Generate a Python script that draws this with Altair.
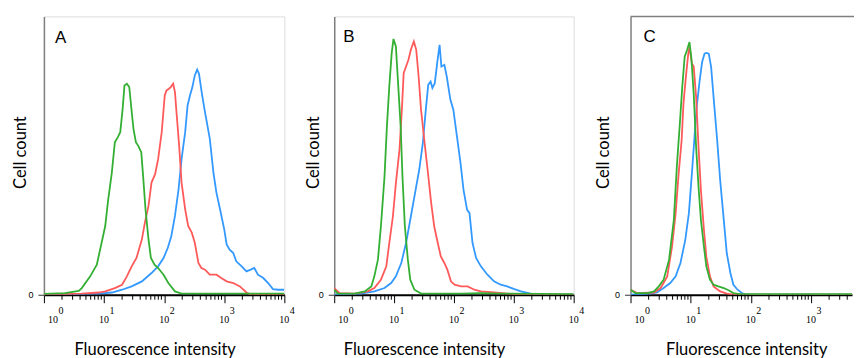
import altair as alt
import pandas as pd

# ---------------- data (x in decades of fluorescence intensity, y = relative cell count) -------------
SERIES = ["blue", "red", "green"]
COLORS = ["#3399ff", "#ff5a5a", "#33b033"]

A_green_x = [0.0, 0.35, 0.58, 0.63, 0.77, 0.88, 0.96, 1.02, 1.07, 1.13, 1.18, 1.23, 1.27, 1.31, 1.34, 1.38, 1.42,
             1.45, 1.49, 1.53, 1.57, 1.62, 1.65, 1.69, 1.74, 1.78, 1.84, 1.90, 1.99, 2.07, 2.18, 2.29, 4.0]
A_green_y = [0.3, 0.6, 1.4, 2.4, 6.6, 10.8, 18.7, 24.7, 34.3, 43.9, 54.8, 56.6, 58.4, 66.8, 75.2, 75.8, 74.6,
             68.0, 59.6, 54.8, 53.5, 51.1, 42.7, 30.7, 19.9, 13.2, 10.8, 9.6, 7.2, 4.2, 1.2, 0.4, 0.4]
A_red_x = [0.0, 0.63, 0.91, 1.02, 1.18, 1.30, 1.38, 1.46, 1.54, 1.63, 1.68, 1.74, 1.79, 1.85, 1.90, 1.96, 2.01,
           2.04, 2.08, 2.11, 2.15, 2.18, 2.21, 2.25, 2.29, 2.35, 2.40, 2.46, 2.51, 2.57, 2.62, 2.68, 2.76, 2.87,
           2.95, 3.04, 3.15, 3.26, 3.37, 3.45, 4.0]
A_red_y = [0.0, 0.4, 0.8, 1.2, 2.4, 3.6, 6.6, 10.2, 13.2, 19.9, 25.9, 31.9, 40.3, 43.3, 48.7, 58.4, 71.6,
           73.4, 74.0, 74.6, 75.8, 72.8, 64.4, 53.5, 40.3, 30.7, 24.7, 22.3, 18.7, 11.4, 9.6, 9.0, 7.2, 7.2,
           6.0, 4.8, 4.2, 3.0, 0.8, 0.0, 0.0]
A_blue_x = [0.0, 0.91, 1.13, 1.30, 1.46, 1.63, 1.79, 1.90, 1.99, 2.06, 2.12, 2.18, 2.24, 2.29, 2.35, 2.39, 2.43,
            2.47, 2.51, 2.55, 2.58, 2.62, 2.67, 2.71, 2.76, 2.82, 2.87, 2.93, 3.00, 3.04, 3.09, 3.15, 3.20, 3.29,
            3.37, 3.44, 3.50, 3.56, 3.65, 3.73, 3.81, 3.90, 4.0]
A_blue_y = [0.0, 0.4, 0.8, 1.8, 3.0, 4.8, 7.8, 10.2, 13.2, 16.8, 21.1, 28.3, 37.9, 48.7, 58.4, 68.0, 71.6,
            74.6, 78.8, 80.9, 79.4, 73.4, 66.8, 62.0, 56.0, 43.9, 36.7, 30.7, 23.5, 18.1, 16.2, 15.0, 12.0, 10.2,
            8.4, 9.0, 9.6, 7.2, 6.0, 4.2, 2.0, 1.8, 1.8]

B_green_x = [0.0, 0.06, 0.34, 0.51, 0.62, 0.67, 0.73, 0.78, 0.84, 0.88, 0.92, 0.96, 0.99, 1.03, 1.06, 1.11, 1.14,
             1.18, 1.23, 1.27, 1.34, 1.45, 2.12, 2.45, 2.78, 4.0]
B_green_y = [1.8, 0.4, 0.4, 1.2, 3.0, 6.6, 12.6, 24.6, 42.5, 60.4, 74.9, 86.8, 91.9, 89.2, 78.4, 60.4, 42.5,
             24.6, 12.6, 5.4, 1.8, 0.4, 0.4, 0.6, 0.4, 0.2]
B_red_x = [0.0, 0.09, 0.34, 0.56, 0.67, 0.78, 0.87, 0.92, 0.98, 1.03, 1.09, 1.13, 1.16, 1.20, 1.24, 1.28, 1.33,
           1.37, 1.41, 1.45, 1.51, 1.56, 1.62, 1.67, 1.73, 1.78, 1.84, 1.89, 1.95, 2.01, 2.12, 2.23, 2.34, 2.45,
           2.67, 2.89, 3.12, 4.0]
B_red_y = [2.4, 0.6, 0.4, 1.2, 2.4, 5.4, 10.2, 18.6, 28.1, 40.1, 52.1, 66.5, 79.6, 82.0, 84.4, 88.0, 91.0,
           88.0, 78.4, 66.5, 54.5, 44.9, 32.9, 24.6, 18.6, 13.8, 11.4, 9.0, 4.8, 3.6, 3.0, 3.0, 1.8, 1.2,
           0.8, 0.4, 0.0, 0.0]
B_blue_x = [0.0, 0.45, 0.67, 0.84, 0.95, 1.03, 1.12, 1.20, 1.28, 1.37, 1.42, 1.48, 1.53, 1.57, 1.61, 1.64, 1.68,
            1.72, 1.76, 1.79, 1.84, 1.88, 1.94, 1.99, 2.05, 2.11, 2.16, 2.22, 2.26, 2.31, 2.37, 2.45, 2.56, 2.67,
            2.78, 2.89, 3.01, 3.12, 3.28, 3.45, 4.0]
B_blue_y = [0.0, 0.4, 1.2, 2.4, 4.2, 6.6, 11.4, 18.6, 28.1, 38.9, 44.9, 54.5, 66.5, 75.4, 76.6, 74.3, 76.0,
            83.2, 89.8, 82.0, 82.6, 78.4, 70.1, 66.5, 56.9, 47.3, 37.7, 30.5, 29.3, 18.6, 13.2, 10.2, 7.2, 4.8,
            3.6, 3.0, 2.0, 1.2, 0.4, 0.0, 0.0]

C_green_x = [0.0, 0.08, 0.28, 0.39, 0.47, 0.55, 0.64, 0.72, 0.77, 0.82, 0.86, 0.90, 0.94, 0.98, 1.01, 1.05, 1.09,
             1.13, 1.17, 1.22, 1.26, 1.32, 1.38, 1.46, 1.55, 1.63, 1.71, 1.82, 4.0]
C_green_y = [1.8, 0.6, 0.6, 1.2, 3.0, 5.4, 12.5, 26.9, 46.1, 61.6, 74.7, 85.5, 87.9, 90.8, 85.4, 72.3, 53.2,
             38.8, 26.9, 17.3, 10.2, 5.4, 3.6, 3.0, 2.4, 1.6, 0.6, 0.2, 0.2]
C_red_x = [0.0, 0.11, 0.39, 0.50, 0.61, 0.69, 0.75, 0.80, 0.85, 0.88, 0.92, 0.96, 0.98, 1.02, 1.05, 1.09, 1.13,
           1.17, 1.22, 1.26, 1.32, 1.38, 1.49, 1.60, 1.71, 4.0]
C_red_y = [1.8, 0.6, 0.8, 2.4, 6.6, 17.3, 29.3, 43.6, 55.6, 68.7, 78.3, 86.6, 89.0, 83.0, 82.1, 71.1, 53.2,
           37.6, 23.3, 13.7, 6.6, 3.0, 1.2, 0.4, 0.0, 0.0]
C_blue_x = [0.0, 0.33, 0.44, 0.55, 0.66, 0.75, 0.83, 0.91, 0.97, 1.02, 1.06, 1.10, 1.15, 1.19, 1.23, 1.26, 1.30,
            1.34, 1.38, 1.44, 1.49, 1.55, 1.60, 1.66, 1.71, 1.78, 1.85, 1.93, 4.0]
C_blue_y = [0.0, 0.4, 0.8, 2.4, 4.2, 6.6, 11.4, 19.7, 29.3, 43.6, 55.6, 67.5, 77.1, 83.6, 86.6, 86.9, 86.6,
            81.8, 71.1, 55.6, 41.2, 26.9, 14.9, 7.8, 3.6, 1.8, 0.6, 0.0, 0.0]

DECADES = [0, 1, 2, 3, 4]
MINOR_MULT = [2, 3, 4, 5, 6, 7, 8, 9]
X_TITLE = "Fluorescence intensity"
Y_TITLE = "Cell count"

H = 279
TITLE_FONT = "Lato"
TITLE_SIZE = 16.5
FRAME = "#7f7f7f"


def panel(letter, curves, width, xmax_dec, xtitle_x, ytitle_x, letter_x, letter_y, open_right=False):
    rows = []
    for name, xs, ys in curves:
        for i, (a, b) in enumerate(zip(xs, ys)):
            rows.append({"intensity": 10 ** a, "count": b, "series": name, "i": i})
    df = pd.DataFrame(rows)

    xmax = 10 ** xmax_dec
    xscale = alt.Scale(type="log", domain=[1, xmax], nice=False)
    yscale = alt.Scale(domain=[0, 100], nice=False)
    majors = [10 ** d for d in DECADES if 10 ** d <= xmax * 1.0001]

    xaxis = alt.Axis(values=majors, labels=False, tickSize=8, tickColor="black", tickWidth=1,
                     domainColor="black", domainWidth=2, grid=False,
                     title=X_TITLE, titleX=xtitle_x, titleY=55, titleBaseline="middle",
                     titleAlign="center", titleFont=TITLE_FONT, titleFontSize=TITLE_SIZE,
                     titleFontWeight="normal", titleColor="black")
    X = lambda: alt.X("intensity:Q", scale=xscale, axis=xaxis, title=X_TITLE)

    lines = alt.Chart(df).mark_line(strokeWidth=1.8, clip=True).encode(
        x=X(),
        y=alt.Y("count:Q", scale=yscale, title=Y_TITLE,
                axis=alt.Axis(values=[0], tickSize=6, tickColor="#333333", tickWidth=1,
                              labelFontSize=9, labelFont="Liberation Sans", labelColor="black",
                              labelPadding=5, domainColor=FRAME, domainWidth=1.5, grid=False,
                              title=Y_TITLE, titleX=ytitle_x, titleY=136, titleAngle=-90,
                              titleBaseline="middle", titleAlign="center", titleFont=TITLE_FONT,
                              titleFontSize=TITLE_SIZE, titleFontWeight="normal", titleColor="black")),
        color=alt.Color("series:N", scale=alt.Scale(domain=SERIES, range=COLORS), legend=None),
        order="i:Q",
    )

    minors = [m * 10 ** d for d in DECADES[:-1] for m in MINOR_MULT if m * 10 ** d <= xmax]
    minor_df = pd.DataFrame({"intensity": minors})
    minor_rules = alt.Chart(minor_df).mark_rule(color="black", strokeWidth=1).encode(
        x=X(), y=alt.value(H), y2=alt.value(H + 5),
    )

    lab_df = pd.DataFrame({"intensity": majors, "base": ["10"] * len(majors),
                           "exp": [str(d) for d in DECADES[:len(majors)]]})
    first = lab_df.iloc[:1]
    rest = lab_df.iloc[1:]
    tstyle = dict(font="Liberation Serif", fontSize=10, color="black", baseline="middle")
    lab_first = alt.Chart(first).mark_text(dx=9, **tstyle).encode(
        x=X(), y=alt.value(H + 25), text="base:N")
    exp_first = alt.Chart(first).mark_text(dx=17, **tstyle).encode(
        x=X(), y=alt.value(H + 16), text="exp:N")
    lab_rest = alt.Chart(rest).mark_text(dx=0, **tstyle).encode(
        x=X(), y=alt.value(H + 25), text="base:N")
    exp_rest = alt.Chart(rest).mark_text(dx=8, **tstyle).encode(
        x=X(), y=alt.value(H + 16), text="exp:N")

    letter_chart = alt.Chart(pd.DataFrame({"t": [letter]})).mark_text(
        font="Liberation Sans", fontSize=17, color="black", align="left", baseline="alphabetic"
    ).encode(x=alt.value(letter_x), y=alt.value(letter_y), text="t:N")

    layers = [lines, minor_rules, lab_first, exp_first, lab_rest, exp_rest, letter_chart]
    props = dict(width=width, height=H)
    if open_right:
        # panel is cut at the right edge: only top frame line (left comes from the y-axis domain)
        top_line = alt.Chart(pd.DataFrame({"t": [letter]})).mark_rule(color=FRAME, strokeWidth=1.5).encode(
            x=alt.value(0), x2=alt.value(width + 2), y=alt.value(0))
        layers.append(top_line)
        props["view"] = alt.ViewBackground(strokeOpacity=0)
    return alt.layer(*layers).properties(**props)


pA = panel("A", [("blue", A_blue_x, A_blue_y), ("red", A_red_x, A_red_y), ("green", A_green_x, A_green_y)],
           241, 4.0, 111, -23, 11, 27)
pB = panel("B", [("blue", B_blue_x, B_blue_y), ("red", B_red_x, B_red_y), ("green", B_green_x, B_green_y)],
           240, 4.0, 90, -21, 9, 26)
pC = panel("C", [("blue", C_blue_x, C_blue_y), ("red", C_red_x, C_red_y), ("green", C_green_x, C_green_y)],
           222, 222 / 60.3, 116, -27, 13, 26, open_right=True)

inner = alt.hconcat(pB, pC, spacing=57, bounds="flush")
chart = alt.hconcat(pA, inner, spacing=50, bounds="flush").properties(
    padding={"left": 4, "top": 7, "right": 0, "bottom": 0}
).configure_view(stroke=FRAME, strokeWidth=1.5).configure(background="white")

chart.save("out.html", embed_options={"renderer": "svg", "actions": False})
